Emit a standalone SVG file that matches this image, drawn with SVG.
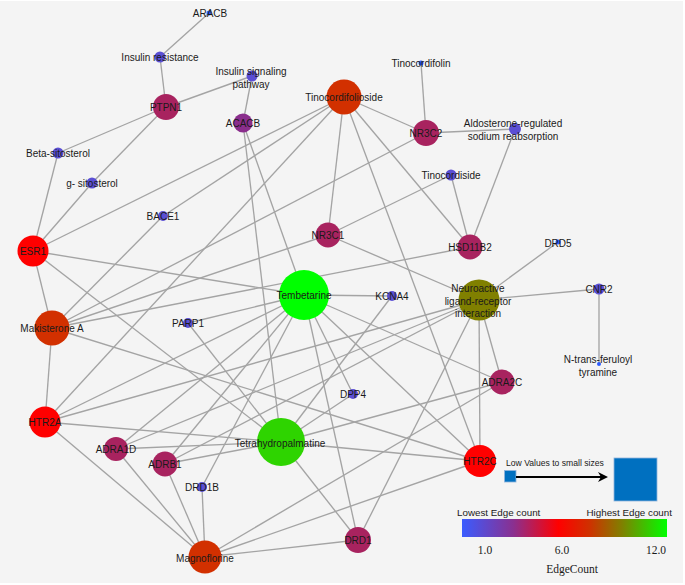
<svg xmlns="http://www.w3.org/2000/svg" width="685" height="585" viewBox="0 0 685 585">
<defs>
<style>
.e{stroke:#a4a4a4;stroke-width:1.35;fill:none}
.t{font-family:"Liberation Sans",Arial,sans-serif;font-size:10px;fill:#1a1a1a;text-anchor:middle}
.b1{fill:#2c5bff}
.b2{fill:#5b4fd4}
.pu{fill:#8a2e8c}
.mg{fill:#a8235f}
.rd{fill:#ff0000}
.or{fill:#d23000}
.ol{fill:#808000}
.g1{fill:#00ff00}
.g2{fill:#2ed400}
.lg{font-family:"Liberation Sans",Arial,sans-serif;fill:#1a1a1a}
.sr{font-family:"Liberation Serif","Times New Roman",serif;fill:#1a1a1a;text-anchor:middle;font-size:11.5px}
</style>
<linearGradient id="grad" x1="0" y1="0" x2="1" y2="0">
<stop offset="0" stop-color="#3a5cff"/>
<stop offset="0.25" stop-color="#8a3090"/>
<stop offset="0.47" stop-color="#ff0000"/>
<stop offset="0.62" stop-color="#d03000"/>
<stop offset="0.78" stop-color="#808000"/>
<stop offset="1" stop-color="#00ff00"/>
</linearGradient>
<marker id="arr" viewBox="0 0 10 10" refX="8" refY="5" markerWidth="5" markerHeight="5" orient="auto">
<path d="M0,0 L10,5 L0,10 L3,5 Z" fill="#000"/>
</marker>
</defs>
<rect x="0" y="0" width="685" height="585" fill="#ffffff"/>
<rect x="0" y="1" width="683" height="582" fill="#f4f4f4"/>
<g id="edges">
<line class="e" x1="209" y1="13" x2="160" y2="57"/>
<line class="e" x1="160" y1="57" x2="166" y2="107"/>
<line class="e" x1="166" y1="107" x2="252" y2="76"/>
<line class="e" x1="252" y1="76" x2="243" y2="123"/>
<line class="e" x1="166" y1="107" x2="58" y2="153"/>
<line class="e" x1="166" y1="107" x2="92" y2="183"/>
<line class="e" x1="58" y1="153" x2="33" y2="251"/>
<line class="e" x1="92" y1="183" x2="33" y2="251"/>
<line class="e" x1="421" y1="63" x2="426" y2="133"/>
<line class="e" x1="426" y1="133" x2="515" y2="129"/>
<line class="e" x1="515" y1="129" x2="470" y2="247"/>
<line class="e" x1="451" y1="175" x2="328" y2="235"/>
<line class="e" x1="451" y1="175" x2="470" y2="247"/>
<line class="e" x1="344" y1="97" x2="426" y2="133"/>
<line class="e" x1="344" y1="97" x2="328" y2="235"/>
<line class="e" x1="344" y1="97" x2="470" y2="247"/>
<line class="e" x1="344" y1="97" x2="480" y2="461"/>
<line class="e" x1="344" y1="97" x2="33" y2="251"/>
<line class="e" x1="344" y1="97" x2="163" y2="216"/>
<line class="e" x1="344" y1="97" x2="45" y2="422"/>
<line class="e" x1="52" y1="328" x2="33" y2="251"/>
<line class="e" x1="52" y1="328" x2="163" y2="216"/>
<line class="e" x1="52" y1="328" x2="426" y2="133"/>
<line class="e" x1="52" y1="328" x2="328" y2="235"/>
<line class="e" x1="52" y1="328" x2="470" y2="247"/>
<line class="e" x1="52" y1="328" x2="45" y2="422"/>
<line class="e" x1="52" y1="328" x2="480" y2="461"/>
<line class="e" x1="328" y1="235" x2="479" y2="300"/>
<line class="e" x1="479" y1="300" x2="558" y2="242"/>
<line class="e" x1="479" y1="300" x2="599" y2="289"/>
<line class="e" x1="599" y1="289" x2="599" y2="364"/>
<line class="e" x1="479" y1="300" x2="45" y2="422"/>
<line class="e" x1="479" y1="300" x2="116" y2="449"/>
<line class="e" x1="479" y1="300" x2="165" y2="464"/>
<line class="e" x1="479" y1="300" x2="358" y2="540"/>
<line class="e" x1="479" y1="300" x2="480" y2="461"/>
<line class="e" x1="479" y1="300" x2="502" y2="382"/>
<line class="e" x1="243" y1="123" x2="304" y2="295"/>
<line class="e" x1="243" y1="123" x2="281" y2="442"/>
<line class="e" x1="33" y1="251" x2="304" y2="295"/>
<line class="e" x1="33" y1="251" x2="281" y2="442"/>
<line class="e" x1="188" y1="323" x2="304" y2="295"/>
<line class="e" x1="188" y1="323" x2="281" y2="442"/>
<line class="e" x1="392" y1="296" x2="304" y2="295"/>
<line class="e" x1="392" y1="296" x2="281" y2="442"/>
<line class="e" x1="304" y1="295" x2="353" y2="394"/>
<line class="e" x1="353" y1="394" x2="281" y2="442"/>
<line class="e" x1="304" y1="295" x2="358" y2="540"/>
<line class="e" x1="304" y1="295" x2="202" y2="487"/>
<line class="e" x1="304" y1="295" x2="165" y2="464"/>
<line class="e" x1="304" y1="295" x2="116" y2="449"/>
<line class="e" x1="304" y1="295" x2="45" y2="422"/>
<line class="e" x1="304" y1="295" x2="502" y2="382"/>
<line class="e" x1="304" y1="295" x2="480" y2="461"/>
<line class="e" x1="281" y1="442" x2="45" y2="422"/>
<line class="e" x1="281" y1="442" x2="116" y2="449"/>
<line class="e" x1="281" y1="442" x2="165" y2="464"/>
<line class="e" x1="281" y1="442" x2="502" y2="382"/>
<line class="e" x1="281" y1="442" x2="480" y2="461"/>
<line class="e" x1="281" y1="442" x2="358" y2="540"/>
<line class="e" x1="205" y1="557" x2="45" y2="422"/>
<line class="e" x1="205" y1="557" x2="116" y2="449"/>
<line class="e" x1="205" y1="557" x2="165" y2="464"/>
<line class="e" x1="205" y1="557" x2="202" y2="487"/>
<line class="e" x1="205" y1="557" x2="358" y2="540"/>
<line class="e" x1="205" y1="557" x2="480" y2="461"/>
<line class="e" x1="205" y1="557" x2="502" y2="382"/>
</g>
<g id="n-aracb"><circle class="b1" cx="209" cy="13" r="2.5"/><text class="t" x="210" y="17">ARACB</text></g>
<g id="n-insres"><circle class="b2" cx="160" cy="57" r="5.5"/><text class="t" x="160" y="61">Insulin resistance</text></g>
<g id="n-inssig"><circle class="b2" cx="252" cy="76" r="5.5"/><text class="t" x="251" y="75">Insulin signaling</text><text class="t" x="251" y="88">pathway</text></g>
<g id="n-ptpn1"><circle class="mg" cx="166" cy="107" r="13"/><text class="t" x="166" y="111">PTPN1</text></g>
<g id="n-acacb"><circle class="pu" cx="243" cy="123" r="9.5"/><text class="t" x="243" y="127">ACACB</text></g>
<g id="n-tinocordifolioside"><circle class="or" cx="344" cy="97" r="17.5"/><text class="t" x="344" y="101">Tinocordifolioside</text></g>
<g id="n-tinocordifolin"><circle class="b1" cx="421" cy="63" r="2.5"/><text class="t" x="421" y="67">Tinocordifolin</text></g>
<g id="n-nr3c2"><circle class="mg" cx="426" cy="133" r="13"/><text class="t" x="426" y="137">NR3C2</text></g>
<g id="n-aldo"><circle class="b2" cx="515" cy="129" r="6"/><text class="t" x="513" y="127">Aldosterone-regulated</text><text class="t" x="513" y="140">sodium reabsorption</text></g>
<g id="n-beta"><circle class="b2" cx="58" cy="153" r="5.5"/><text class="t" x="58" y="157">Beta-sitosterol</text></g>
<g id="n-gsito"><circle class="b2" cx="92" cy="183" r="5.5"/><text class="t" x="92" y="187">g- sitosterol</text></g>
<g id="n-tinocordiside"><circle class="b2" cx="451" cy="175" r="5.5"/><text class="t" x="451" y="179">Tinocordiside</text></g>
<g id="n-bace1"><circle class="b2" cx="163" cy="216" r="5"/><text class="t" x="163" y="220">BACE1</text></g>
<g id="n-esr1"><circle class="rd" cx="33" cy="251" r="15.5"/><text class="t" x="33" y="255">ESR1</text></g>
<g id="n-nr3c1"><circle class="mg" cx="328" cy="235" r="12.5"/><text class="t" x="328" y="239">NR3C1</text></g>
<g id="n-hsd11b2"><circle class="mg" cx="470" cy="247" r="12.5"/><text class="t" x="470" y="251">HSD11B2</text></g>
<g id="n-drd5"><circle class="b1" cx="558" cy="242" r="2.5"/><text class="t" x="558" y="247">DRD5</text></g>
<g id="n-tembetarine"><circle class="g1" cx="304" cy="295" r="25"/><text class="t" x="304" y="299">Tembetarine</text></g>
<g id="n-kcna4"><circle class="b2" cx="392" cy="296" r="5"/><text class="t" x="392" y="300">KCNA4</text></g>
<g id="n-neuro"><circle class="ol" cx="479" cy="300" r="20.5"/><text class="t" x="478" y="292">Neuroactive</text><text class="t" x="478" y="305">ligand-receptor</text><text class="t" x="478" y="317">interaction</text></g>
<g id="n-cnr2"><circle class="b2" cx="599" cy="289" r="5.5"/><text class="t" x="599" y="293">CNR2</text></g>
<g id="n-ntrans"><circle class="b1" cx="599" cy="364" r="2"/><text class="t" x="598" y="363">N-trans-feruloyl</text><text class="t" x="598" y="376">tyramine</text></g>
<g id="n-makisterone"><circle class="or" cx="52" cy="328" r="17.5"/><text class="t" x="52" y="332">Makisterone A</text></g>
<g id="n-parp1"><circle class="b2" cx="188" cy="323" r="5"/><text class="t" x="188" y="327">PARP1</text></g>
<g id="n-dpp4"><circle class="b2" cx="353" cy="394" r="5"/><text class="t" x="353" y="398">DPP4</text></g>
<g id="n-adra2c"><circle class="mg" cx="502" cy="382" r="12.5"/><text class="t" x="502" y="386">ADRA2C</text></g>
<g id="n-htr2a"><circle class="rd" cx="45" cy="422" r="15.5"/><text class="t" x="45" y="426">HTR2A</text></g>
<g id="n-adra1d"><circle class="mg" cx="116" cy="449" r="12"/><text class="t" x="116" y="453">ADRA1D</text></g>
<g id="n-adrb1"><circle class="mg" cx="165" cy="464" r="12.5"/><text class="t" x="165" y="468">ADRB1</text></g>
<g id="n-thp"><circle class="g2" cx="281" cy="442" r="24"/><text class="t" x="280" y="447">Tetrahydropalmatine</text></g>
<g id="n-drd1b"><circle class="b2" cx="202" cy="487" r="5"/><text class="t" x="202" y="491">DRD1B</text></g>
<g id="n-htr2c"><circle class="rd" cx="480" cy="461" r="16"/><text class="t" x="480" y="465">HTR2C</text></g>
<g id="n-magnoflorine"><circle class="or" cx="205" cy="557" r="16.5"/><text class="t" x="205" y="562">Magnoflorine</text></g>
<g id="n-drd1"><circle class="mg" cx="358" cy="540" r="13"/><text class="t" x="358" y="544">DRD1</text></g>
<g id="legend">
<text class="lg" x="506" y="466" font-size="8.6">Low Values to small sizes</text>
<rect x="504.5" y="470.5" width="11.5" height="11.5" fill="#0070c0" stroke="#8fb3dd" stroke-width="0.8"/>
<line x1="516" y1="477" x2="606" y2="477" stroke="#000" stroke-width="2" marker-end="url(#arr)"/>
<rect x="614" y="458" width="43" height="43" fill="#0070c0" stroke="#8fb3dd" stroke-width="0.8"/>
<text class="lg" x="457" y="516" font-size="9.8">Lowest Edge count</text>
<text class="lg" x="672" y="516" font-size="9.8" text-anchor="end">Highest Edge count</text>
<rect x="462" y="519" width="205" height="18" fill="url(#grad)"/>
<text class="sr" x="485" y="554">1.0</text>
<text class="sr" x="562" y="554">6.0</text>
<text class="sr" x="656" y="554">12.0</text>
<text class="sr" x="572" y="573">EdgeCount</text>
</g>
</svg>
